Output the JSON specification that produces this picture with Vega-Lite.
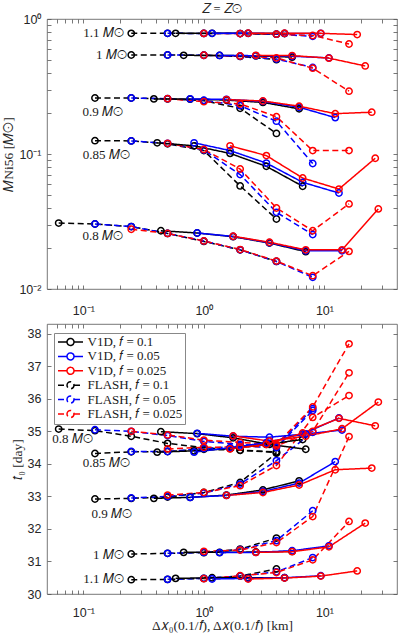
{
"$schema": "https://vega.github.io/schema/vega-lite/v6.json",
"background": "white",
"padding": {"left": 1, "top": 2, "right": 1, "bottom": 0},
"spacing": 6,
"config": {
  "view": {"stroke": "#555", "strokeWidth": 0.8},
  "axis": {"grid": false, "domain": false, "tickSize": -4, "tickColor": "#555", "tickWidth": 0.8, "labelFont": "Liberation Sans", "labelFontSize": 12.5, "labelColor": "#262626", "titleFont": "Liberation Serif", "titleFontSize": 13.5, "titleFontWeight": "normal", "titleColor": "#262626", "labelOverlap": false, "labelFlush": false},
  "title": {"font": "Liberation Serif", "fontSize": 12.5, "fontWeight": "normal", "color": "#262626", "offset": -2}
},
"datasets": {
"top": [
{"m":1.1,"s":"F1","x":0.25,"y":0.783},{"m":1.1,"s":"F1","x":0.5,"y":0.783},{"m":1.1,"s":"F1","x":1,"y":0.782},{"m":1.1,"s":"F1","x":2,"y":0.78},{"m":1.1,"s":"F1","x":4,"y":0.772},
{"m":1,"s":"F1","x":0.25,"y":0.541},{"m":1,"s":"F1","x":0.5,"y":0.541},{"m":1,"s":"F1","x":1,"y":0.539},{"m":1,"s":"F1","x":2,"y":0.528},{"m":1,"s":"F1","x":4,"y":0.5},
{"m":0.9,"s":"F1","x":0.125,"y":0.26},{"m":0.9,"s":"F1","x":0.25,"y":0.26},{"m":0.9,"s":"F1","x":0.5,"y":0.256},{"m":0.9,"s":"F1","x":1,"y":0.248},{"m":0.9,"s":"F1","x":2,"y":0.218},{"m":0.9,"s":"F1","x":4,"y":0.142},
{"m":0.85,"s":"F1","x":0.125,"y":0.1255},{"m":0.85,"s":"F1","x":0.25,"y":0.125},{"m":0.85,"s":"F1","x":0.5,"y":0.119},{"m":0.85,"s":"F1","x":1,"y":0.106},{"m":0.85,"s":"F1","x":2,"y":0.058},{"m":0.85,"s":"F1","x":4,"y":0.033},
{"m":0.8,"s":"F1","x":0.0625,"y":0.0308},{"m":0.8,"s":"F1","x":0.125,"y":0.0303},{"m":0.8,"s":"F1","x":0.25,"y":0.029},{"m":0.8,"s":"F1","x":0.5,"y":0.0258},{"m":0.8,"s":"F1","x":1,"y":0.0225},{"m":0.8,"s":"F1","x":2,"y":0.0195},{"m":0.8,"s":"F1","x":4,"y":0.016},
{"m":1.1,"s":"F2","x":0.5,"y":0.783},{"m":1.1,"s":"F2","x":1,"y":0.782},{"m":1.1,"s":"F2","x":2,"y":0.78},{"m":1.1,"s":"F2","x":4,"y":0.772},{"m":1.1,"s":"F2","x":8,"y":0.744},
{"m":1,"s":"F2","x":0.5,"y":0.541},{"m":1,"s":"F2","x":1,"y":0.539},{"m":1,"s":"F2","x":2,"y":0.53},{"m":1,"s":"F2","x":4,"y":0.505},{"m":1,"s":"F2","x":8,"y":0.438},
{"m":0.9,"s":"F2","x":0.25,"y":0.26},{"m":0.9,"s":"F2","x":0.5,"y":0.257},{"m":0.9,"s":"F2","x":1,"y":0.25},{"m":0.9,"s":"F2","x":2,"y":0.228},{"m":0.9,"s":"F2","x":4,"y":0.175},{"m":0.9,"s":"F2","x":8,"y":0.085},
{"m":0.85,"s":"F2","x":0.25,"y":0.125},{"m":0.85,"s":"F2","x":0.5,"y":0.12},{"m":0.85,"s":"F2","x":1,"y":0.107},{"m":0.85,"s":"F2","x":2,"y":0.0704},{"m":0.85,"s":"F2","x":4,"y":0.037},{"m":0.85,"s":"F2","x":8,"y":0.0253},
{"m":0.8,"s":"F2","x":0.125,"y":0.0303},{"m":0.8,"s":"F2","x":0.25,"y":0.029},{"m":0.8,"s":"F2","x":0.5,"y":0.0258},{"m":0.8,"s":"F2","x":1,"y":0.0227},{"m":0.8,"s":"F2","x":2,"y":0.0195},{"m":0.8,"s":"F2","x":4,"y":0.016},{"m":0.8,"s":"F2","x":8,"y":0.0122},
{"m":1.1,"s":"F3","x":1,"y":0.782},{"m":1.1,"s":"F3","x":2,"y":0.78},{"m":1.1,"s":"F3","x":4,"y":0.772},{"m":1.1,"s":"F3","x":8,"y":0.755},{"m":1.1,"s":"F3","x":16,"y":0.653},
{"m":1,"s":"F3","x":1,"y":0.539},{"m":1,"s":"F3","x":2,"y":0.532},{"m":1,"s":"F3","x":4,"y":0.515},{"m":1,"s":"F3","x":8,"y":0.432},{"m":1,"s":"F3","x":16,"y":0.292},
{"m":0.9,"s":"F3","x":0.5,"y":0.257},{"m":0.9,"s":"F3","x":1,"y":0.244},{"m":0.9,"s":"F3","x":2,"y":0.235},{"m":0.9,"s":"F3","x":4,"y":0.189},{"m":0.9,"s":"F3","x":8,"y":0.106},{"m":0.9,"s":"F3","x":16,"y":0.106},
{"m":0.85,"s":"F3","x":0.5,"y":0.12},{"m":0.85,"s":"F3","x":1,"y":0.108},{"m":0.85,"s":"F3","x":2,"y":0.0774},{"m":0.85,"s":"F3","x":4,"y":0.0398},{"m":0.85,"s":"F3","x":8,"y":0.027},{"m":0.85,"s":"F3","x":16,"y":0.0427},
{"m":0.8,"s":"F3","x":0.25,"y":0.0277},{"m":0.8,"s":"F3","x":0.5,"y":0.0258},{"m":0.8,"s":"F3","x":1,"y":0.0227},{"m":0.8,"s":"F3","x":2,"y":0.0196},{"m":0.8,"s":"F3","x":4,"y":0.0161},{"m":0.8,"s":"F3","x":8,"y":0.01255},{"m":0.8,"s":"F3","x":16,"y":0.019},
{"m":1.1,"s":"V1","x":0.583,"y":0.783},{"m":1.1,"s":"V1","x":1.17,"y":0.783},{"m":1.1,"s":"V1","x":2.33,"y":0.783},{"m":1.1,"s":"V1","x":4.67,"y":0.78},
{"m":1,"s":"V1","x":0.68,"y":0.538},{"m":1,"s":"V1","x":1.35,"y":0.537},{"m":1,"s":"V1","x":2.7,"y":0.533},{"m":1,"s":"V1","x":5.4,"y":0.522},
{"m":0.9,"s":"V1","x":0.385,"y":0.256},{"m":0.9,"s":"V1","x":0.77,"y":0.255},{"m":0.9,"s":"V1","x":1.54,"y":0.251},{"m":0.9,"s":"V1","x":3.09,"y":0.241},{"m":0.9,"s":"V1","x":6.17,"y":0.216},
{"m":0.85,"s":"V1","x":0.41,"y":0.121},{"m":0.85,"s":"V1","x":0.83,"y":0.115},{"m":0.85,"s":"V1","x":1.65,"y":0.101},{"m":0.85,"s":"V1","x":3.3,"y":0.081},{"m":0.85,"s":"V1","x":6.6,"y":0.0577},
{"m":0.8,"s":"V1","x":0.44,"y":0.027},{"m":0.8,"s":"V1","x":0.88,"y":0.026},{"m":0.8,"s":"V1","x":1.75,"y":0.0244},{"m":0.8,"s":"V1","x":3.5,"y":0.0219},{"m":0.8,"s":"V1","x":7,"y":0.0189},
{"m":1.1,"s":"V2","x":1.17,"y":0.783},{"m":1.1,"s":"V2","x":2.33,"y":0.783},{"m":1.1,"s":"V2","x":4.67,"y":0.782},{"m":1.1,"s":"V2","x":9.33,"y":0.782},
{"m":1,"s":"V2","x":1.35,"y":0.537},{"m":1,"s":"V2","x":2.7,"y":0.535},{"m":1,"s":"V2","x":5.4,"y":0.53},{"m":1,"s":"V2","x":10.9,"y":0.515},
{"m":0.9,"s":"V2","x":0.77,"y":0.256},{"m":0.9,"s":"V2","x":1.54,"y":0.254},{"m":0.9,"s":"V2","x":3.09,"y":0.245},{"m":0.9,"s":"V2","x":6.17,"y":0.222},{"m":0.9,"s":"V2","x":12.3,"y":0.186},
{"m":0.85,"s":"V2","x":0.83,"y":0.121},{"m":0.85,"s":"V2","x":1.65,"y":0.106},{"m":0.85,"s":"V2","x":3.3,"y":0.0857},{"m":0.85,"s":"V2","x":6.6,"y":0.0617},{"m":0.85,"s":"V2","x":13.2,"y":0.0514},
{"m":0.8,"s":"V2","x":0.88,"y":0.026},{"m":0.8,"s":"V2","x":1.75,"y":0.0245},{"m":0.8,"s":"V2","x":3.5,"y":0.022},{"m":0.8,"s":"V2","x":7,"y":0.0192},{"m":0.8,"s":"V2","x":14,"y":0.0192},
{"m":1.1,"s":"V3","x":2.33,"y":0.785},{"m":1.1,"s":"V3","x":4.67,"y":0.784},{"m":1.1,"s":"V3","x":9.33,"y":0.783},{"m":1.1,"s":"V3","x":18.7,"y":0.767},
{"m":1,"s":"V3","x":2.7,"y":0.538},{"m":1,"s":"V3","x":5.4,"y":0.536},{"m":1,"s":"V3","x":10.9,"y":0.513},{"m":1,"s":"V3","x":21.8,"y":0.449},
{"m":0.9,"s":"V3","x":1.54,"y":0.253},{"m":0.9,"s":"V3","x":3.09,"y":0.247},{"m":0.9,"s":"V3","x":6.17,"y":0.226},{"m":0.9,"s":"V3","x":12.3,"y":0.199},{"m":0.9,"s":"V3","x":24.7,"y":0.204},
{"m":0.85,"s":"V3","x":1.65,"y":0.115},{"m":0.85,"s":"V3","x":3.3,"y":0.0973},{"m":0.85,"s":"V3","x":6.6,"y":0.0664},{"m":0.85,"s":"V3","x":13.2,"y":0.055},{"m":0.85,"s":"V3","x":26.4,"y":0.093},
{"m":0.8,"s":"V3","x":1.75,"y":0.0246},{"m":0.8,"s":"V3","x":3.5,"y":0.0222},{"m":0.8,"s":"V3","x":7,"y":0.0195},{"m":0.8,"s":"V3","x":14,"y":0.0195},{"m":0.8,"s":"V3","x":28,"y":0.0392}
],
"bot": [
{"m":0.8,"s":"F1","x":0.0625,"y":35.07},{"m":0.8,"s":"F1","x":0.125,"y":35.02},{"m":0.8,"s":"F1","x":0.25,"y":34.85},{"m":0.8,"s":"F1","x":0.5,"y":34.63},{"m":0.8,"s":"F1","x":1,"y":34.5},{"m":0.8,"s":"F1","x":2,"y":34.42},{"m":0.8,"s":"F1","x":4,"y":34.37},
{"m":0.85,"s":"F1","x":0.125,"y":34.32},{"m":0.85,"s":"F1","x":0.25,"y":34.37},{"m":0.85,"s":"F1","x":0.5,"y":34.38},{"m":0.85,"s":"F1","x":1,"y":34.45},{"m":0.85,"s":"F1","x":2,"y":34.42},{"m":0.85,"s":"F1","x":4,"y":34.35},
{"m":0.9,"s":"F1","x":0.125,"y":32.92},{"m":0.9,"s":"F1","x":0.25,"y":32.94},{"m":0.9,"s":"F1","x":0.5,"y":32.98},{"m":0.9,"s":"F1","x":1,"y":33.12},{"m":0.9,"s":"F1","x":2,"y":33.43},{"m":0.9,"s":"F1","x":4,"y":34.33},
{"m":1,"s":"F1","x":0.25,"y":31.23},{"m":1,"s":"F1","x":0.5,"y":31.25},{"m":1,"s":"F1","x":1,"y":31.27},{"m":1,"s":"F1","x":2,"y":31.38},{"m":1,"s":"F1","x":4,"y":31.72},
{"m":1.1,"s":"F1","x":0.25,"y":30.44},{"m":1.1,"s":"F1","x":0.5,"y":30.45},{"m":1.1,"s":"F1","x":1,"y":30.48},{"m":1.1,"s":"F1","x":2,"y":30.55},{"m":1.1,"s":"F1","x":4,"y":30.77},
{"m":0.8,"s":"F2","x":0.125,"y":35.05},{"m":0.8,"s":"F2","x":0.25,"y":35.0},{"m":0.8,"s":"F2","x":0.5,"y":34.87},{"m":0.8,"s":"F2","x":1,"y":34.69},{"m":0.8,"s":"F2","x":2,"y":34.6},{"m":0.8,"s":"F2","x":4,"y":34.55},{"m":0.8,"s":"F2","x":8,"y":35.7},
{"m":0.85,"s":"F2","x":0.25,"y":34.38},{"m":0.85,"s":"F2","x":0.5,"y":34.38},{"m":0.85,"s":"F2","x":1,"y":34.47},{"m":0.85,"s":"F2","x":2,"y":34.55},{"m":0.85,"s":"F2","x":4,"y":34.5},{"m":0.85,"s":"F2","x":8,"y":35.64},
{"m":0.9,"s":"F2","x":0.25,"y":32.95},{"m":0.9,"s":"F2","x":0.5,"y":33.0},{"m":0.9,"s":"F2","x":1,"y":33.1},{"m":0.9,"s":"F2","x":2,"y":33.38},{"m":0.9,"s":"F2","x":4,"y":34.1},{"m":0.9,"s":"F2","x":8,"y":34.97},
{"m":1,"s":"F2","x":0.5,"y":31.25},{"m":1,"s":"F2","x":1,"y":31.28},{"m":1,"s":"F2","x":2,"y":31.36},{"m":1,"s":"F2","x":4,"y":31.64},{"m":1,"s":"F2","x":8,"y":32.56},
{"m":1.1,"s":"F2","x":0.5,"y":30.45},{"m":1.1,"s":"F2","x":1,"y":30.48},{"m":1.1,"s":"F2","x":2,"y":30.55},{"m":1.1,"s":"F2","x":4,"y":30.68},{"m":1.1,"s":"F2","x":8,"y":31.12},
{"m":0.8,"s":"F3","x":0.25,"y":35.0},{"m":0.8,"s":"F3","x":0.5,"y":34.89},{"m":0.8,"s":"F3","x":1,"y":34.73},{"m":0.8,"s":"F3","x":2,"y":34.66},{"m":0.8,"s":"F3","x":4,"y":34.6},{"m":0.8,"s":"F3","x":8,"y":35.75},{"m":0.8,"s":"F3","x":16,"y":37.69},
{"m":0.85,"s":"F3","x":0.5,"y":34.46},{"m":0.85,"s":"F3","x":1,"y":34.51},{"m":0.85,"s":"F3","x":2,"y":34.52},{"m":0.85,"s":"F3","x":4,"y":34.55},{"m":0.85,"s":"F3","x":8,"y":35.0},{"m":0.85,"s":"F3","x":16,"y":36.8},
{"m":0.9,"s":"F3","x":0.5,"y":33.04},{"m":0.9,"s":"F3","x":1,"y":33.12},{"m":0.9,"s":"F3","x":2,"y":33.33},{"m":0.9,"s":"F3","x":4,"y":33.95},{"m":0.9,"s":"F3","x":8,"y":35.43},{"m":0.9,"s":"F3","x":16,"y":36.1},
{"m":1,"s":"F3","x":1,"y":31.31},{"m":1,"s":"F3","x":2,"y":31.35},{"m":1,"s":"F3","x":4,"y":31.58},{"m":1,"s":"F3","x":8,"y":32.38},{"m":1,"s":"F3","x":16,"y":34.84},
{"m":1.1,"s":"F3","x":1,"y":30.47},{"m":1.1,"s":"F3","x":2,"y":30.56},{"m":1.1,"s":"F3","x":4,"y":30.66},{"m":1.1,"s":"F3","x":8,"y":31.05},{"m":1.1,"s":"F3","x":16,"y":32.23},
{"m":0.8,"s":"V1","x":0.44,"y":34.99},{"m":0.8,"s":"V1","x":0.88,"y":34.93},{"m":0.8,"s":"V1","x":1.75,"y":34.8},{"m":0.8,"s":"V1","x":3.5,"y":34.6},{"m":0.8,"s":"V1","x":7,"y":34.45},
{"m":0.85,"s":"V1","x":0.41,"y":34.36},{"m":0.85,"s":"V1","x":0.83,"y":34.4},{"m":0.85,"s":"V1","x":1.65,"y":34.47},{"m":0.85,"s":"V1","x":3.3,"y":34.6},{"m":0.85,"s":"V1","x":6.6,"y":34.75},
{"m":0.9,"s":"V1","x":0.385,"y":32.94},{"m":0.9,"s":"V1","x":0.77,"y":32.97},{"m":0.9,"s":"V1","x":1.54,"y":33.04},{"m":0.9,"s":"V1","x":3.09,"y":33.2},{"m":0.9,"s":"V1","x":6.17,"y":33.48},
{"m":1,"s":"V1","x":0.68,"y":31.28},{"m":1,"s":"V1","x":1.35,"y":31.28},{"m":1,"s":"V1","x":2.7,"y":31.29},{"m":1,"s":"V1","x":5.4,"y":31.31},
{"m":1.1,"s":"V1","x":0.583,"y":30.48},{"m":1.1,"s":"V1","x":1.17,"y":30.5},{"m":1.1,"s":"V1","x":2.33,"y":30.5},{"m":1.1,"s":"V1","x":4.67,"y":30.5},
{"m":0.8,"s":"V2","x":0.88,"y":34.94},{"m":0.8,"s":"V2","x":1.75,"y":34.85},{"m":0.8,"s":"V2","x":3.5,"y":34.82},{"m":0.8,"s":"V2","x":7,"y":34.92},{"m":0.8,"s":"V2","x":14,"y":35.04},
{"m":0.85,"s":"V2","x":0.83,"y":34.36},{"m":0.85,"s":"V2","x":1.65,"y":34.5},{"m":0.85,"s":"V2","x":3.3,"y":34.65},{"m":0.85,"s":"V2","x":6.6,"y":34.92},{"m":0.85,"s":"V2","x":13.2,"y":35.41},
{"m":0.9,"s":"V2","x":0.77,"y":32.97},{"m":0.9,"s":"V2","x":1.54,"y":33.03},{"m":0.9,"s":"V2","x":3.09,"y":33.15},{"m":0.9,"s":"V2","x":6.17,"y":33.41},{"m":0.9,"s":"V2","x":12.3,"y":34.07},
{"m":1,"s":"V2","x":1.35,"y":31.27},{"m":1,"s":"V2","x":2.7,"y":31.28},{"m":1,"s":"V2","x":5.4,"y":31.33},{"m":1,"s":"V2","x":10.9,"y":31.48},
{"m":1.1,"s":"V2","x":1.17,"y":30.46},{"m":1.1,"s":"V2","x":2.33,"y":30.48},{"m":1.1,"s":"V2","x":4.67,"y":30.5},{"m":1.1,"s":"V2","x":9.33,"y":30.56},
{"m":0.8,"s":"V3","x":1.75,"y":34.86},{"m":0.8,"s":"V3","x":3.5,"y":34.7},{"m":0.8,"s":"V3","x":7,"y":34.85},{"m":0.8,"s":"V3","x":14,"y":35.08},{"m":0.8,"s":"V3","x":28,"y":35.9},
{"m":0.85,"s":"V3","x":1.65,"y":34.46},{"m":0.85,"s":"V3","x":3.3,"y":34.6},{"m":0.85,"s":"V3","x":6.6,"y":34.95},{"m":0.85,"s":"V3","x":13.2,"y":35.4},{"m":0.85,"s":"V3","x":26.4,"y":35.17},
{"m":0.9,"s":"V3","x":1.54,"y":33.03},{"m":0.9,"s":"V3","x":3.09,"y":33.12},{"m":0.9,"s":"V3","x":6.17,"y":33.35},{"m":0.9,"s":"V3","x":12.3,"y":33.82},{"m":0.9,"s":"V3","x":24.7,"y":33.87},
{"m":1,"s":"V3","x":2.7,"y":31.28},{"m":1,"s":"V3","x":5.4,"y":31.3},{"m":1,"s":"V3","x":10.9,"y":31.45},{"m":1,"s":"V3","x":21.8,"y":32.18},
{"m":1.1,"s":"V3","x":2.33,"y":30.46},{"m":1.1,"s":"V3","x":4.67,"y":30.49},{"m":1.1,"s":"V3","x":9.33,"y":30.55},{"m":1.1,"s":"V3","x":18.7,"y":30.71}
],
"lt": [
{"x":0.217,"y":0.788,"t":"1.1 𝑀⊙"},{"x":0.229,"y":0.541,"t":"1 𝑀⊙"},{"x":0.213,"y":0.205,"t":"0.9 𝑀⊙"},{"x":0.243,"y":0.0983,"t":"0.85 𝑀⊙"},{"x":0.213,"y":0.0247,"t":"0.8 𝑀⊙"}
],
"lb": [
{"x":0.12,"y":34.78,"t":"0.8 𝑀⊙"},{"x":0.243,"y":34.02,"t":"0.85 𝑀⊙"},{"x":0.253,"y":32.47,"t":"0.9 𝑀⊙"},{"x":0.217,"y":31.2,"t":"1 𝑀⊙"},{"x":0.217,"y":30.47,"t":"1.1 𝑀⊙"}
]
},
"resolve": {"scale": {"x": "independent", "y": "independent", "color": "independent", "strokeDash": "independent", "strokeWidth": "independent"}, "legend": {"color": "independent", "strokeDash": "independent", "strokeWidth": "independent"}},
"vconcat": [
{
  "width": 350, "height": 270,
  "title": {"text": "𝑍 = 𝑍⊙", "anchor": "middle"},
  "resolve": {"axis": {"x": "independent", "y": "independent"}},
  "layer": [
    {"data": {"name": "top"},
     "mark": {"type": "line", "clip": true},
     "encoding": {
       "x": {"field": "x", "type": "quantitative", "scale": {"type": "log", "domain": [0.05, 40], "nice": false}, "axis": {"orient": "bottom", "values": [0.06,0.07,0.08,0.09,0.1,0.2,0.3,0.4,0.5,0.6,0.7,0.8,0.9,1,2,3,4,5,6,7,8,9,10,20,30], "labelExpr": "datum.value == 0.1 ? '10⁻¹' : datum.value == 1 ? '10⁰' : datum.value == 10 ? '10¹' : ''", "title": null, "labelPadding": 19}},
       "y": {"field": "y", "type": "quantitative", "scale": {"type": "log", "domain": [0.01, 1], "nice": false}, "axis": {"orient": "left", "values": [0.01,0.02,0.03,0.04,0.05,0.06,0.07,0.08,0.09,0.1,0.2,0.3,0.4,0.5,0.6,0.7,0.8,0.9,1], "labelExpr": "datum.value == 1 ? '10⁰' : datum.value == 0.1 ? '10⁻¹' : datum.value == 0.01 ? '10⁻²' : ''", "title": "𝑀Ni56 [𝑀⊙]", "labelPadding": 10, "titlePadding": 3}},
       "detail": {"field": "m", "type": "nominal"},
       "color": {"field": "s", "type": "nominal", "scale": {"domain": ["V1","V2","V3","F1","F2","F3"], "range": ["#000000","#0000ff","#ff0000","#000000","#0000ff","#ff0000"]}, "legend": null},
       "strokeDash": {"field": "s", "type": "nominal", "scale": {"domain": ["V1","V2","V3","F1","F2","F3"], "range": [[1,0],[1,0],[1,0],[6,3.5],[6,3.5],[6,3.5]]}, "legend": null},
       "strokeWidth": {"field": "s", "type": "nominal", "scale": {"domain": ["V1","V2","V3","F1","F2","F3"], "range": [1.5,1.5,1.5,1.2,1.2,1.2]}, "legend": null}
     }},
    {"data": {"name": "top"},
     "mark": {"type": "point", "shape": "circle", "filled": false, "size": 40, "opacity": 1, "clip": true},
     "encoding": {
       "x": {"field": "x", "type": "quantitative", "axis": {"orient": "top", "values": [0.06,0.07,0.08,0.09,0.1,0.2,0.3,0.4,0.5,0.6,0.7,0.8,0.9,1,2,3,4,5,6,7,8,9,10,20,30], "labels": false, "title": null}},
       "y": {"field": "y", "type": "quantitative", "axis": {"orient": "right", "values": [0.01,0.02,0.03,0.04,0.05,0.06,0.07,0.08,0.09,0.1,0.2,0.3,0.4,0.5,0.6,0.7,0.8,0.9,1], "labels": false, "title": null}},
       "color": {"field": "s", "type": "nominal", "legend": null},
       "strokeWidth": {"field": "s", "type": "nominal", "legend": null}
     }},
    {"data": {"name": "lt"},
     "mark": {"type": "text", "align": "right", "baseline": "middle", "font": "Liberation Serif", "fontSize": 13, "color": "#1a1a1a"},
     "encoding": {
       "x": {"field": "x", "type": "quantitative", "axis": null},
       "y": {"field": "y", "type": "quantitative", "axis": null},
       "text": {"field": "t"}
     }}
  ]
},
{
  "width": 350, "height": 270,
  "resolve": {"axis": {"x": "independent", "y": "independent"}},
  "layer": [
    {"data": {"name": "bot"},
     "mark": {"type": "line", "clip": true},
     "encoding": {
       "x": {"field": "x", "type": "quantitative", "scale": {"type": "log", "domain": [0.05, 40], "nice": false}, "axis": {"orient": "bottom", "values": [0.06,0.07,0.08,0.09,0.1,0.2,0.3,0.4,0.5,0.6,0.7,0.8,0.9,1,2,3,4,5,6,7,8,9,10,20,30], "labelExpr": "datum.value == 0.1 ? '10⁻¹' : datum.value == 1 ? '10⁰' : datum.value == 10 ? '10¹' : ''", "title": "Δ𝑥₀(0.1/𝑓), Δ𝑥(0.1/𝑓) [km]", "labelPadding": 16, "titlePadding": 0}},
       "y": {"field": "y", "type": "quantitative", "scale": {"domain": [30, 38.3], "nice": false, "zero": false}, "axis": {"orient": "left", "values": [30,31,32,33,34,35,36,37,38], "title": "𝑡₀ [day]", "labelPadding": 10, "titlePadding": 3}},
       "detail": {"field": "m", "type": "nominal"},
       "color": {"field": "s", "type": "nominal", "scale": {"domain": ["V1","V2","V3","F1","F2","F3"], "range": ["#000000","#0000ff","#ff0000","#000000","#0000ff","#ff0000"]},
         "legend": {"orient": "none", "legendX": 7, "legendY": 9, "title": null, "direction": "vertical",
           "symbolType": "M-2.5,0H-0.7M0.7,0H2.5M-0.7,0A0.7,0.7,0,1,1,0.7,0A0.7,0.7,0,1,1,-0.7,0",
           "symbolSize": 100, "symbolStrokeWidth": 1.5, "symbolFillColor": "transparent", "symbolOffset": 7.5, "labelOffset": 10.5,
           "labelFont": "Liberation Serif", "labelFontSize": 13, "labelColor": "#1a1a1a",
           "labelExpr": "datum.label == 'V1' ? 'V1D, 𝑓 = 0.1' : datum.label == 'V2' ? 'V1D, 𝑓 = 0.05' : datum.label == 'V3' ? 'V1D, 𝑓 = 0.025' : datum.label == 'F1' ? 'FLASH, 𝑓 = 0.1' : datum.label == 'F2' ? 'FLASH, 𝑓 = 0.05' : 'FLASH, 𝑓 = 0.025'",
           "strokeColor": "#888", "fillColor": "#ffffff", "padding": 2.5, "rowPadding": 0.4}},
       "strokeDash": {"field": "s", "type": "nominal", "scale": {"domain": ["V1","V2","V3","F1","F2","F3"], "range": [[1,0],[1,0],[1,0],[6,3.5],[6,3.5],[6,3.5]]}},
       "strokeWidth": {"field": "s", "type": "nominal", "scale": {"domain": ["V1","V2","V3","F1","F2","F3"], "range": [1.5,1.5,1.5,1.2,1.2,1.2]}, "legend": null}
     }},
    {"data": {"name": "bot"},
     "mark": {"type": "point", "shape": "circle", "filled": false, "size": 40, "opacity": 1, "clip": true},
     "encoding": {
       "x": {"field": "x", "type": "quantitative", "axis": {"orient": "top", "values": [0.06,0.07,0.08,0.09,0.1,0.2,0.3,0.4,0.5,0.6,0.7,0.8,0.9,1,2,3,4,5,6,7,8,9,10,20,30], "labels": false, "title": null}},
       "y": {"field": "y", "type": "quantitative", "axis": {"orient": "right", "values": [30,31,32,33,34,35,36,37,38], "labels": false, "title": null}},
       "color": {"field": "s", "type": "nominal"},
       "strokeWidth": {"field": "s", "type": "nominal", "legend": null}
     }},
    {"data": {"name": "lb"},
     "mark": {"type": "text", "align": "right", "baseline": "middle", "font": "Liberation Serif", "fontSize": 13, "color": "#1a1a1a"},
     "encoding": {
       "x": {"field": "x", "type": "quantitative", "axis": null},
       "y": {"field": "y", "type": "quantitative", "axis": null},
       "text": {"field": "t"}
     }}
  ]
}
]
}
